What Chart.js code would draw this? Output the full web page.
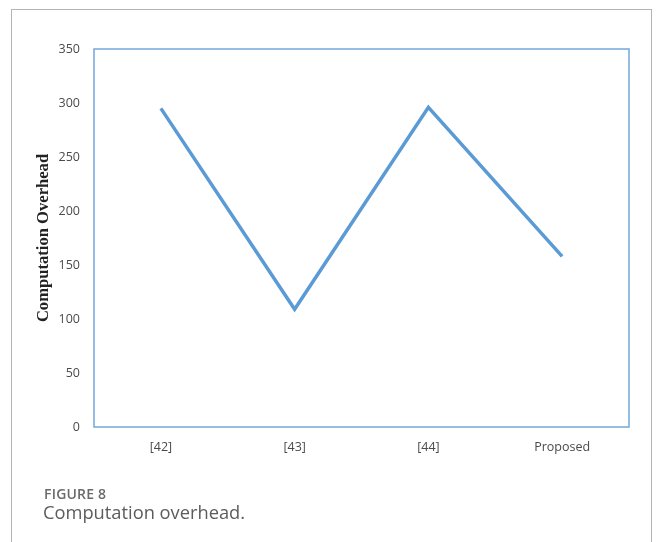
<!DOCTYPE html>
<html>
<head>
<meta charset="utf-8">
<script src="https://cdn.jsdelivr.net/npm/chart.js@4/dist/chart.umd.min.js"></script>
<style>
  html, body { margin: 0; padding: 0; background: #fff; }
  #wrap { position: relative; width: 657px; height: 542px; overflow: hidden; }
  #frame {
    position: absolute; left: 11px; top: 9px; width: 641px; height: 560px;
    border: 1.5px solid #b4b4b4; border-bottom: none; box-sizing: border-box;
  }
  canvas { position: absolute; left: 0; top: 0; }
  .cap1 {
    position: absolute; left: 44px; top: 484px; font-family: "Open Sans", sans-serif;
    font-weight: 600; font-size: 14px; color: #6a6a6a; letter-spacing: 0.2px;
  }
  .cap2 {
    position: absolute; left: 43px; top: 499px; font-family: "Open Sans", sans-serif;
    font-size: 18.3px; color: #5c5c5c;
  }
</style>
</head>
<body>
<div id="wrap">
  <div id="frame"></div>
  <canvas id="c" width="657" height="542"></canvas>
  <div class="cap1">FIGURE 8</div>
  <div class="cap2">Computation overhead.</div>
</div>
<script>
const categories = ["[42]", "[43]", "[44]", "Proposed"];
const overhead = [295, 109, 296, 158];
const yTicks = [0, 50, 100, 150, 200, 250, 300, 350];

// Thin outline around the plotting area
const areaBorder = {
  id: 'areaBorder',
  afterDraw(chart) {
    const { ctx, chartArea: a } = chart;
    ctx.save();
    ctx.strokeStyle = '#72a6dc';
    ctx.lineWidth = 1.5;
    ctx.strokeRect(a.left, a.top, a.right - a.left, a.bottom - a.top);
    ctx.restore();
  }
};

new Chart(document.getElementById('c'), {
  type: 'line',
  data: {
    labels: categories,
    datasets: [{
      data: overhead,
      borderColor: '#5b9bd5',
      borderWidth: 3.5,
      pointRadius: 0,
      tension: 0,
      fill: false
    }]
  },
  options: {
    responsive: false,
    animation: false,
    layout: { padding: { left: 30, top: 49, right: 28, bottom: 85 } },
    plugins: { legend: { display: false }, tooltip: { enabled: false } },
    scales: {
      x: {
        offset: true,
        grid: { display: false, drawTicks: false },
        border: { display: false },
        ticks: { padding: 13, color: '#4a4a4a', font: { family: 'Open Sans', size: 12.5 } },
        afterFit(s) { s.height = 30; }
      },
      y: {
        min: 0, max: 350,
        afterBuildTicks(s) { s.ticks = yTicks.map(v => ({ value: v })); },
        grid: { display: false, drawTicks: false },
        border: { display: false },
        ticks: { padding: 14, color: '#4a4a4a', font: { family: 'Open Sans', size: 12.5 } },
        title: {
          display: true,
          text: 'Computation Overhead',
          color: '#222',
          font: { family: 'Liberation Serif', size: 16.6, weight: 'bold' },
          padding: { top: 4, bottom: 0 }
        },
        afterFit(s) { s.width = 64; }
      }
    }
  },
  plugins: [areaBorder]
});
</script>
</body>
</html>
